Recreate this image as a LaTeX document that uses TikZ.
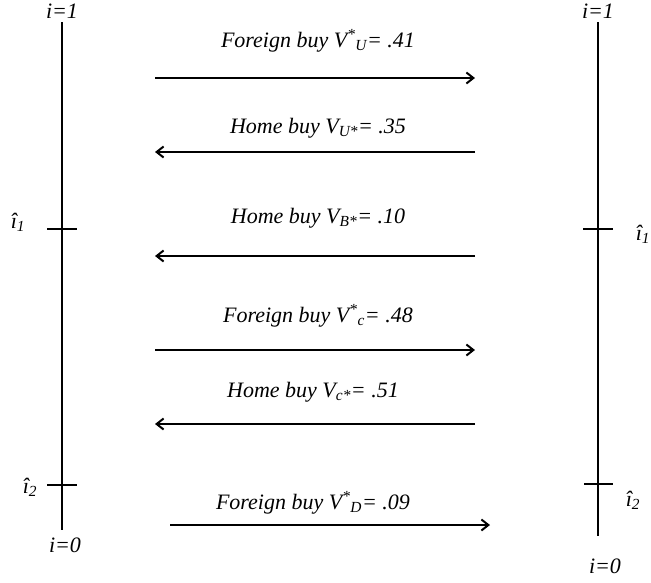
\documentclass[tikz,border=0pt]{standalone}
\usepackage{fontspec}
\setmainfont{Liberation Serif}
\usepackage{tikz}
\usetikzlibrary{arrows.meta, positioning, calc}
\definecolor{inkblack}{HTML}{000000}

\tikzset{
  axisline/.style={inkblack, line width=2.8pt},
  tickmark/.style={inkblack, line width=2.4pt},
  tradeflow/.style={inkblack, line width=2.2pt, -{Straight Barb[length=7pt, width=11pt, line width=2pt]}},
  lbl/.style={inkblack, font=\fontsize{22}{22}\selectfont\itshape, inner sep=0pt},
}

\begin{document}
\begin{tikzpicture}[x=1pt, y=-1pt]
  % Page frame
  \useasboundingbox (0,0) rectangle (651,582);

  % Left axis (Home)
  \coordinate (ltop) at (62,22);
  \coordinate (lbot) at (62,530);
  \draw[axisline] (ltop) -- (lbot);
  \coordinate (lta) at (47,229);  \coordinate (ltb) at (77,229);
  \coordinate (lsa) at (47,485);  \coordinate (lsb) at (77,485);
  \draw[tickmark] (lta) -- (ltb);
  \draw[tickmark] (lsa) -- (lsb);
  \node[lbl] (ltoplab) at (62,11) {i=1};
  \node[lbl] (lhat1) at (18,222) {î\textsubscript{1}};
  \node[lbl] (lhat2) at (30,487) {î\textsubscript{2}};
  \node[lbl] (lbotlab) at (65,545) {i=0};

  % Right axis (Foreign)
  \coordinate (rtop) at (598,22);
  \coordinate (rbot) at (598,536);
  \draw[axisline] (rtop) -- (rbot);
  \coordinate (rta) at (583,229);  \coordinate (rtb) at (613,229);
  \coordinate (rsa) at (584,484);  \coordinate (rsb) at (613,484);
  \draw[tickmark] (rta) -- (rtb);
  \draw[tickmark] (rsa) -- (rsb);
  \node[lbl] (rtoplab) at (598,11) {i=1};
  \node[lbl] (rhat1) at (643,234) {î\textsubscript{1}};
  \node[lbl] (rhat2) at (633,500) {î\textsubscript{2}};
  \node[lbl] (rbotlab) at (605,566) {i=0};

  % Trade flows between the two axes
  \coordinate (fua) at (155,78);   \coordinate (fub) at (475,78);
  \coordinate (hua) at (475,152);  \coordinate (hub) at (155,152);
  \coordinate (hba) at (475,256);  \coordinate (hbb) at (155,256);
  \coordinate (fca) at (155,350);  \coordinate (fcb) at (475,350);
  \coordinate (hca) at (475,424);  \coordinate (hcb) at (155,424);
  \coordinate (fda) at (170,525);  \coordinate (fdb) at (490,525);
  \draw[tradeflow] (fua) -- (fub);
  \draw[tradeflow] (hua) -- (hub);
  \draw[tradeflow] (hba) -- (hbb);
  \draw[tradeflow] (fca) -- (fcb);
  \draw[tradeflow] (hca) -- (hcb);
  \draw[tradeflow] (fda) -- (fdb);

  % Flow labels
  \node[lbl] (fulab) at (318,41) {Foreign buy V\textsuperscript{*}\textsubscript{U}= .41};
  \node[lbl] (hulab) at (318,128) {Home buy V\textsubscript{U*}= .35};
  \node[lbl] (hblab) at (318,218) {Home buy V\textsubscript{B*}= .10};
  \node[lbl] (fclab) at (318,316) {Foreign buy V\textsuperscript{*}\textsubscript{c}= .48};
  \node[lbl] (hclab) at (313,392) {Home buy V\textsubscript{c*}= .51};
  \node[lbl] (fdlab) at (313,503) {Foreign buy V\textsuperscript{*}\textsubscript{D}= .09};
\end{tikzpicture}
\end{document}
